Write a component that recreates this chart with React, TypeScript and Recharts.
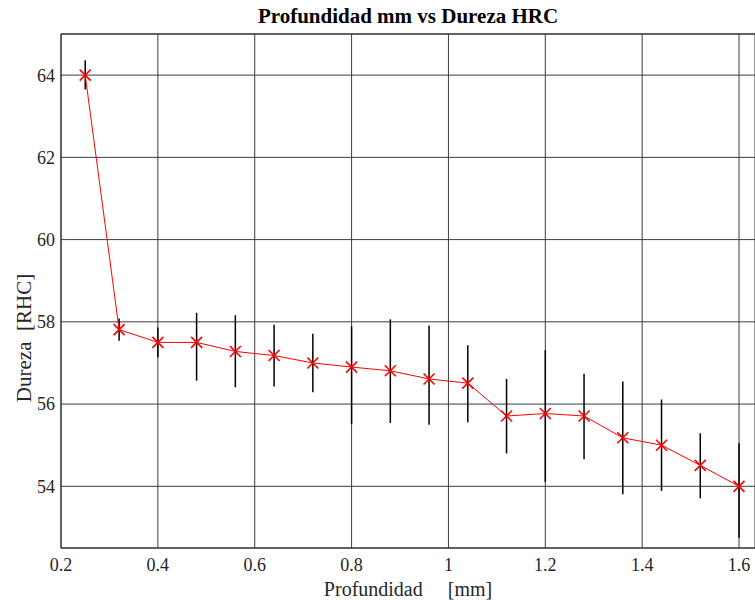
import { LineChart, Line, XAxis, YAxis, CartesianGrid, ErrorBar, ReferenceLine } from 'recharts';

// depth in mm
const depth = [0.25, 0.32, 0.4, 0.48, 0.56, 0.64, 0.72, 0.8, 0.88, 0.96, 1.04, 1.12, 1.2, 1.28, 1.36, 1.44, 1.52, 1.6];
// hardness HRC
const hardness = [64, 57.81, 57.5, 57.5, 57.28, 57.18, 57.0, 56.9, 56.81, 56.61, 56.51, 55.71, 55.77, 55.71, 55.18, 55.0, 54.51, 54.0];
// error below / above the point
const errLow = [0.35, 0.27, 0.36, 0.93, 0.87, 0.75, 0.71, 1.39, 1.27, 1.11, 0.95, 0.91, 1.66, 1.05, 1.37, 1.11, 0.8, 1.25];
const errHigh = [0.36, 0.27, 0.36, 0.72, 0.88, 0.75, 0.71, 0.99, 1.25, 1.3, 0.92, 0.9, 1.54, 1.03, 1.37, 1.11, 0.78, 1.05];

const xTicks = [0.2, 0.4, 0.6, 0.8, 1, 1.2, 1.4, 1.6];
const yTicks = [54, 56, 58, 60, 62, 64];

const data = depth.map((d, i) => ({ depth: d, hrc: hardness[i], err: [errLow[i], errHigh[i]] }));

const font = '"Liberation Serif", "Times New Roman", serif';

const Cross = (props: any) => {
  const { cx, cy } = props;
  if (cx == null || cy == null) return null;
  const s = 5.5;
  return (
    <g stroke="#ff0000" strokeWidth={1.6}>
      <line x1={cx - s} y1={cy - s} x2={cx + s} y2={cy + s} />
      <line x1={cx - s} y1={cy + s} x2={cx + s} y2={cy - s} />
    </g>
  );
};

export default function App() {
  return (
    <div style={{ position: 'absolute', left: 0, top: 0, width: 755, height: 600, background: '#fff', fontFamily: font }}>
      <div style={{ position: 'absolute', left: 61, width: 694, top: 4, textAlign: 'center', fontWeight: 'bold', fontSize: 21, color: '#000' }}>
        Profundidad mm vs Dureza HRC
      </div>
      <LineChart width={755} height={600} data={data} margin={{ top: 34, right: 0, bottom: 0, left: 0 }} style={{ fontFamily: font }}>
        <CartesianGrid stroke="#3c3c3c" strokeWidth={1} />
        <XAxis
          dataKey="depth"
          type="number"
          domain={[0.2, 1.633]}
          allowDataOverflow
          ticks={xTicks}
          height={52}
          tickSize={0}
          tickMargin={10}
          stroke="#262626"
          tick={{ fill: '#262626', fontSize: 18, fontFamily: font, style: { fontFamily: font } }}
        />
        <YAxis
          type="number"
          domain={[52.5, 65]}
          allowDataOverflow
          ticks={yTicks}
          width={61}
          tickSize={0}
          tickMargin={6}
          stroke="#262626"
          tick={{ fill: '#262626', fontSize: 18, fontFamily: font, style: { fontFamily: font } }}
        />
        <ReferenceLine y={65} stroke="#262626" strokeWidth={1} />
        <Line
          dataKey="hrc"
          stroke="#ff0000"
          strokeWidth={1}
          dot={<Cross />}
          activeDot={false}
          isAnimationActive={false}
        >
          <ErrorBar dataKey="err" width={0} stroke="#000" strokeWidth={1.5} direction="y" isAnimationActive={false} />
        </Line>
      </LineChart>
      <div style={{ position: 'absolute', left: 61, width: 694, top: 578, textAlign: 'center', fontSize: 20, color: '#262626', whiteSpace: 'pre' }}>
        {'Profundidad     [mm]'}
      </div>
      <div
        style={{
          position: 'absolute',
          left: 24,
          top: 338,
          transform: 'translate(-50%, -50%) rotate(-90deg)',
          fontSize: 21,
          color: '#262626',
          whiteSpace: 'pre',
        }}
      >
        {'Dureza  [RHC]'}
      </div>
    </div>
  );
}
